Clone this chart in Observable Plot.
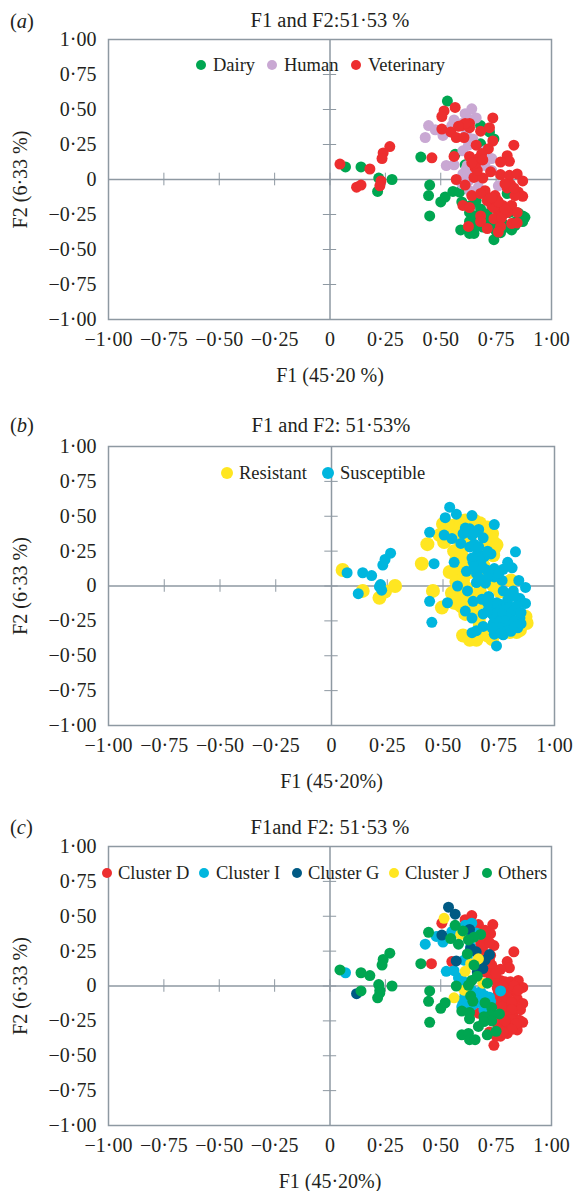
<!DOCTYPE html>
<html><head><meta charset="utf-8">
<script src="https://cdn.jsdelivr.net/npm/d3@7"></script>
<script src="https://cdn.jsdelivr.net/npm/@observablehq/plot@0.6"></script>
<style>
html,body{margin:0;padding:0;background:#fff}
#root{position:relative;width:573px;height:1191px;overflow:hidden;font-family:"Liberation Serif",serif;color:#231f20}
.panel{position:absolute;left:0}
.panel svg{display:block;background:#fff;overflow:visible}
.t{position:absolute;white-space:nowrap;font-size:20.5px;line-height:22px}
.tc{transform:translateX(-50%)}
.lg{position:absolute;white-space:nowrap;font-size:18.5px;line-height:20px}
.d{position:absolute;border-radius:50%}
</style></head><body><div id="root"></div>
<script>
const ticks=[-1,-0.75,-0.5,-0.25,0,0.25,0.5,0.75,1];
const dairy=[[.07,.09],[.14,.09],[.22,.01],[.28,0],[.215,-.085],[.41,.16],[.53,.56],[.45,-.04],[.445,-.115],[.45,-.26],[.5,-.16],[.52,-.125],[.555,-.085],[.585,-.09],[.595,-.16],[.63,-.235],[.59,-.36],[.63,-.385],[.65,-.385],[.74,-.43],[.67,-.29],[.68,-.21],[.61,.105],[.565,.18],[.68,.385],[.72,.34],[.74,.29],[.68,.255],[.69,.11],[.8,-.1],[.87,-.26],[.86,-.29],[.835,-.33],[.8,-.34],[.755,-.34],[.71,-.245],[.81,-.235],[.74,-.29],[.77,-.27],[.66,-.15],[.635,-.185],[.69,-.34],[.78,-.315],[.84,-.3],[.88,-.27],[.75,-.37],[.68,-.33],[.66,-.33],[.73,-.33],[.7,-.3],[.85,-.24],[.87,-.3],[.82,-.36],[.77,-.38],[.63,-.3],[.66,-.26]];
const human=[[.43,.3],[.445,.385],[.475,.355],[.51,.315],[.56,.425],[.55,.385],[.61,.47],[.64,.505],[.66,.44],[.595,.4],[.615,.325],[.645,.29],[.6,.205],[.625,.245],[.525,.1],[.56,.105],[.6,.04],[.615,.075],[.625,-.01],[.73,.15],[.73,.065],[.76,-.045],[.67,-.055],[.63,-.08],[.7,.205],[.68,.005],[.595,-.03],[.62,.1],[.7,.1],[.7,.15],[.62,.03],[.63,.43]];
const veterinary=[[.045,.11],[.18,.075],[.27,.235],[.24,.19],[.235,.15],[.12,-.055],[.14,-.04],[.23,-.01],[.225,-.045],[.46,.155],[.565,.515],[.515,.49],[.505,.45],[.505,.36],[.545,.34],[.595,.385],[.63,.4],[.63,.37],[.57,.3],[.605,.3],[.68,.345],[.72,.37],[.735,.44],[.66,.245],[.735,.275],[.715,.22],[.685,.185],[.83,.245],[.8,.17],[.81,.13],[.77,.125],[.56,.165],[.63,.165],[.67,.15],[.655,.085],[.65,.015],[.69,.01],[.665,.065],[.725,.055],[.77,.035],[.81,.03],[.845,.04],[.87,-.01],[.57,0],[.61,-.04],[.64,-.115],[.7,-.08],[.68,-.1],[.745,-.115],[.815,-.035],[.85,-.09],[.87,-.12],[.835,-.115],[.6,-.185],[.63,-.2],[.73,-.185],[.755,-.15],[.78,-.185],[.82,-.185],[.845,-.235],[.8,-.235],[.76,-.235],[.74,-.28],[.68,-.26],[.68,-.3],[.82,-.315],[.845,-.31],[.77,-.335],[.76,-.375],[.71,-.35],[.625,-.335],[.775,-.27],[.74,-.2],[.79,-.21],[.76,-.16],[.71,-.15],[.73,-.13],[.8,-.06],[.83,-.06],[.79,-.03],[.66,.12],[.64,.12],[.69,.14],[.61,.4],[.58,.38]];
const resistant=[[.05,.115],[.14,-.035],[.215,-.085],[.24,-.04],[.285,0],[.405,.16],[.43,.3],[.5,.445],[.555,.435],[.485,.365],[.505,.315],[.455,-.035],[.495,-.155],[.53,.1],[.56,.1],[.56,.185],[.6,.47],[.665,.45],[.72,.375],[.74,.295],[.725,.22],[.59,.2],[.68,.255],[.59,.045],[.605,-.015],[.56,-.075],[.585,-.15],[.635,-.185],[.59,-.355],[.62,-.385],[.65,-.385],[.7,-.355],[.665,-.28],[.805,.04],[.875,-.265],[.845,-.315],[.755,-.04],[.665,-.04],[.725,.005],[.635,-.09],[.68,.08],[.6,.3],[.62,.35],[.57,.37],[.53,.35],[.68,.15],[.62,.1],[.62,-.06],[.57,-.13],[.61,-.1],[.66,-.12],[.67,-.33],[.72,-.38],[.8,-.33],[.62,.43],[.58,.24],[.72,.32],[.7,.28],[.52,.44],[.58,.44],[.64,.47],[.7,.42],[.72,.33],[.73,.27],[.58,.3],[.55,.25],[.6,.13],[.56,.03],[.58,-.03],[.54,-.05],[.55,-.12],[.6,-.2],[.66,-.24],[.63,-.36],[.69,-.32],[.87,-.22],[.83,-.33]];
const susceptible=[[.07,.095],[.14,.095],[.18,.075],[.265,.235],[.24,.19],[.23,.15],[.12,-.055],[.22,.01],[.225,-.03],[.215,-.005],[.44,.385],[.46,.16],[.53,.565],[.56,.515],[.51,.49],[.505,.365],[.54,.34],[.58,.305],[.63,.505],[.73,.44],[.6,.415],[.59,.375],[.62,.41],[.66,.405],[.63,.365],[.68,.345],[.62,.28],[.655,.235],[.715,.23],[.685,.21],[.825,.245],[.79,.17],[.81,.13],[.77,.12],[.73,.125],[.55,.17],[.635,.17],[.67,.16],[.605,.105],[.65,.09],[.695,.115],[.65,.025],[.69,.02],[.73,.065],[.765,.04],[.84,.04],[.87,-.01],[.565,0],[.61,-.035],[.44,-.11],[.45,-.26],[.52,-.12],[.635,-.11],[.675,-.095],[.705,-.075],[.755,-.13],[.77,-.035],[.815,-.035],[.79,-.1],[.845,-.09],[.87,-.125],[.6,-.18],[.63,-.23],[.68,-.2],[.725,-.16],[.73,-.22],[.77,-.22],[.805,-.195],[.845,-.23],[.835,-.3],[.8,-.28],[.755,-.28],[.725,-.27],[.68,-.29],[.63,-.335],[.73,-.345],[.77,-.35],[.805,-.325],[.74,-.43],[.74,-.12],[.76,-.17],[.78,-.16],[.8,-.15],[.82,-.17],[.76,-.2],[.78,-.25],[.82,-.25],[.74,-.25],[.76,-.3],[.79,-.32],[.82,-.29],[.85,-.27],[.83,-.14],[.85,-.19],[.8,-.06],[.82,-.07],[.72,-.2],[.7,-.18],[.7,-.12],[.66,.13],[.66,.2],[.63,.2],[.64,.14],[.68,.13],[.72,.1],[.75,.09],[.7,.06],[.66,.06],[.64,.3],[.7,.25],[.66,.28],[.61,.39],[.64,.38],[.65,-.32],[.72,-.3],[.76,-.34]];
const clusterD=[[.458,.16],[.505,.45],[.64,.505],[.61,.475],[.67,.44],[.735,.44],[.725,.375],[.74,.29],[.725,.22],[.83,.245],[.8,.175],[.81,.13],[.77,.12],[.55,.175],[.69,.245],[.73,.15],[.73,.065],[.77,.04],[.815,.03],[.85,.04],[.87,-.01],[.815,-.04],[.845,-.09],[.87,-.125],[.8,-.135],[.755,-.075],[.84,-.145],[.785,-.195],[.825,-.205],[.87,-.26],[.845,-.315],[.8,-.34],[.77,-.36],[.74,-.425],[.755,-.27],[.815,-.27],[.785,-.29],[.855,-.245],[.67,-.195],[.74,.045],[.755,-.015],[.78,-.05],[.8,-.08],[.78,-.1],[.76,-.13],[.78,-.15],[.82,-.12],[.86,-.17],[.82,-.17],[.8,-.22],[.76,-.22],[.74,-.25],[.82,-.24],[.84,-.27],[.79,-.25],[.76,-.31],[.82,-.31],[.72,-.33],[.78,-.33],[.75,-.36],[.72,.09],[.75,.09],[.7,.3],[.7,.4],[.7,.35],[.68,.3],[.72,.31],[.7,.1],[.72,.18],[.79,.03],[.76,-.04],[.78,0],[.83,0],[.85,-.03]];
const clusterI=[[.07,.095],[.43,.3],[.48,.355],[.51,.315],[.55,.39],[.61,.435],[.64,.45],[.525,.105],[.56,.11],[.595,.045],[.635,.28],[.605,.185],[.77,-.035],[.595,-.15],[.605,-.09],[.665,-.065],[.7,-.07],[.725,-.11],[.695,-.17],[.62,-.005],[.58,.38],[.6,.39],[.63,.38],[.66,.38],[.63,.33],[.58,.06],[.6,.02],[.61,-.06],[.64,-.03],[.68,-.04],[.72,-.08],[.6,-.12],[.64,-.14],[.66,-.12],[.7,-.1],[.62,.21]];
const clusterG=[[.535,.565],[.565,.515],[.505,.365],[.63,.405],[.635,.27],[.66,.245],[.72,.225],[.7,.185],[.57,.18],[.69,.125],[.12,-.055],[.665,.1]];
const clusterJ=[[.515,.485],[.59,.37],[.67,.195],[.61,.105],[.69,.02],[.605,-.03],[.56,-.085],[.635,.16]];
const others=[[.045,.115],[.14,.095],[.18,.075],[.27,.235],[.24,.19],[.235,.15],[.14,-.035],[.22,.01],[.28,0],[.225,-.03],[.225,-.05],[.215,-.085],[.41,.16],[.445,.385],[.565,.435],[.6,.395],[.545,.34],[.58,.3],[.68,.37],[.65,.35],[.625,.33],[.62,.23],[.65,.15],[.665,.07],[.64,.04],[.625,.005],[.71,.02],[.57,0],[.45,-.035],[.445,-.11],[.45,-.26],[.5,-.16],[.52,-.12],[.635,-.07],[.645,-.11],[.7,-.12],[.595,-.18],[.63,-.19],[.63,-.235],[.73,-.155],[.765,-.2],[.725,-.21],[.695,-.22],[.73,-.25],[.695,-.255],[.67,-.29],[.595,-.35],[.625,-.34],[.63,-.385],[.655,-.385],[.71,-.35],[.75,-.325]];

const GREEN="#00a651",PURPLE="#c9a8d3",RED="#ed2e2f",YELLOW="#ffe621",CYAN="#00b6de",NAVY="#005a84",GRAY="#8e99a2";
const fmt=d=>d===0?"0":(d<0?"\u2212":"")+Math.abs(d).toFixed(2).replace(".","\u00b7");
const root=document.getElementById("root");
function txt(cls,x,y,html){const e=document.createElement("div");e.className=cls;e.style.left=x+"px";e.style.top=y+"px";e.innerHTML=html;root.appendChild(e);}
function panel(o){
  const p=Plot.plot({
    width:573,height:o.h+o.marginTop+70,
    marginTop:o.marginTop,marginBottom:70,marginLeft:o.left,marginRight:573-o.right,
    x:{domain:[-1,1]},y:{domain:[-1,1]},
    style:{fontFamily:'"Liberation Serif",serif',fontSize:"20px",color:"#231f20",background:"#fff",overflow:"visible"},
    marks:[
      Plot.axisX({ticks,tickSize:0,tickPadding:12,tickFormat:fmt,label:o.xlabel,labelArrow:"none",labelAnchor:"center",labelOffset:62}),
      Plot.axisY({ticks,tickSize:0,tickPadding:12,tickFormat:fmt,label:o.ylabel,labelArrow:"none",labelAnchor:"center",labelOffset:96}),
      Plot.frame({stroke:GRAY,strokeWidth:1.5}),
      Plot.ruleX(ticks,{x:d=>d,y1:-.045,y2:.045,stroke:GRAY,strokeWidth:1}),
      Plot.ruleY(ticks,{y:d=>d,x1:-.03,x2:.03,stroke:GRAY,strokeWidth:1}),
      Plot.ruleX([0],{stroke:GRAY,strokeWidth:1.5}),
      Plot.ruleY([0],{stroke:GRAY,strokeWidth:1.5}),
      ...o.series.map(s=>Plot.dot(s.data,{x:d=>d[0],y:d=>d[1],r:s.r,fill:s.color,stroke:"none"}))
    ]
  });
  const w=document.createElement("div");w.className="panel";w.style.top=o.top+"px";w.appendChild(p);root.appendChild(w);
  txt("t",10,o.top+o.letterY,"("+"<i>"+o.letter+"</i>)");
  txt("t tc",o.titleX,o.top+o.titleY,o.title);
  o.legend.forEach(l=>{
    const d=document.createElement("div");d.className="d";const r=l.r||5;
    d.style.cssText+=`left:${l.dot-r}px;top:${o.top+o.legendY-r}px;width:${2*r}px;height:${2*r}px;background:${l.color}`;
    root.appendChild(d);
    txt("lg",l.text,o.top+o.legendY-10,l.name);
  });
}
panel({top:0,marginTop:39,h:280,left:108,right:551,letter:"a",letterY:10,titleX:330,titleY:9,title:"F1 and F2:51\u00b753 %",
  xlabel:"F1 (45\u00b720 %)",ylabel:"F2 (6\u00b733 %)",legendY:65,
  series:[{data:dairy,color:GREEN,r:5.5},{data:human,color:PURPLE,r:5.5},{data:veterinary,color:RED,r:5.5}],
  legend:[{dot:201,text:213,color:GREEN,name:"Dairy"},{dot:272,text:284,color:PURPLE,name:"Human"},{dot:356,text:368,color:RED,name:"Veterinary"}]});
panel({top:407,marginTop:39,h:279,left:108,right:554,letter:"b",letterY:7,titleX:331,titleY:7,title:"F1 and F2: 51\u00b753%",
  xlabel:"F1 (45\u00b720%)",ylabel:"F2 (6\u00b733 %)",legendY:66,
  series:[{data:resistant,color:YELLOW,r:7},{data:susceptible,color:CYAN,r:5.5}],
  legend:[{dot:227,text:239,color:YELLOW,name:"Resistant",r:6},{dot:328,text:340,color:CYAN,name:"Susceptible",r:6}]});
panel({top:807,marginTop:39,h:279,left:108,right:551,letter:"c",letterY:9,titleX:330,titleY:9,title:"F1and F2: 51\u00b753 %",
  xlabel:"F1 (45\u00b720%)",ylabel:"F2 (6\u00b733 %)",legendY:66,
  series:[{data:clusterD,color:RED,r:5.5},{data:clusterI,color:CYAN,r:5.5},{data:clusterG,color:NAVY,r:5.5},{data:clusterJ,color:YELLOW,r:5.5},{data:others,color:GREEN,r:5.5}],
  legend:[{dot:107,text:118,color:RED,name:"Cluster D"},{dot:204,text:216,color:CYAN,name:"Cluster I"},{dot:297,text:308,color:NAVY,name:"Cluster G"},{dot:394,text:405,color:YELLOW,name:"Cluster J"},{dot:487,text:498,color:GREEN,name:"Others"}]});
</script></body></html>
